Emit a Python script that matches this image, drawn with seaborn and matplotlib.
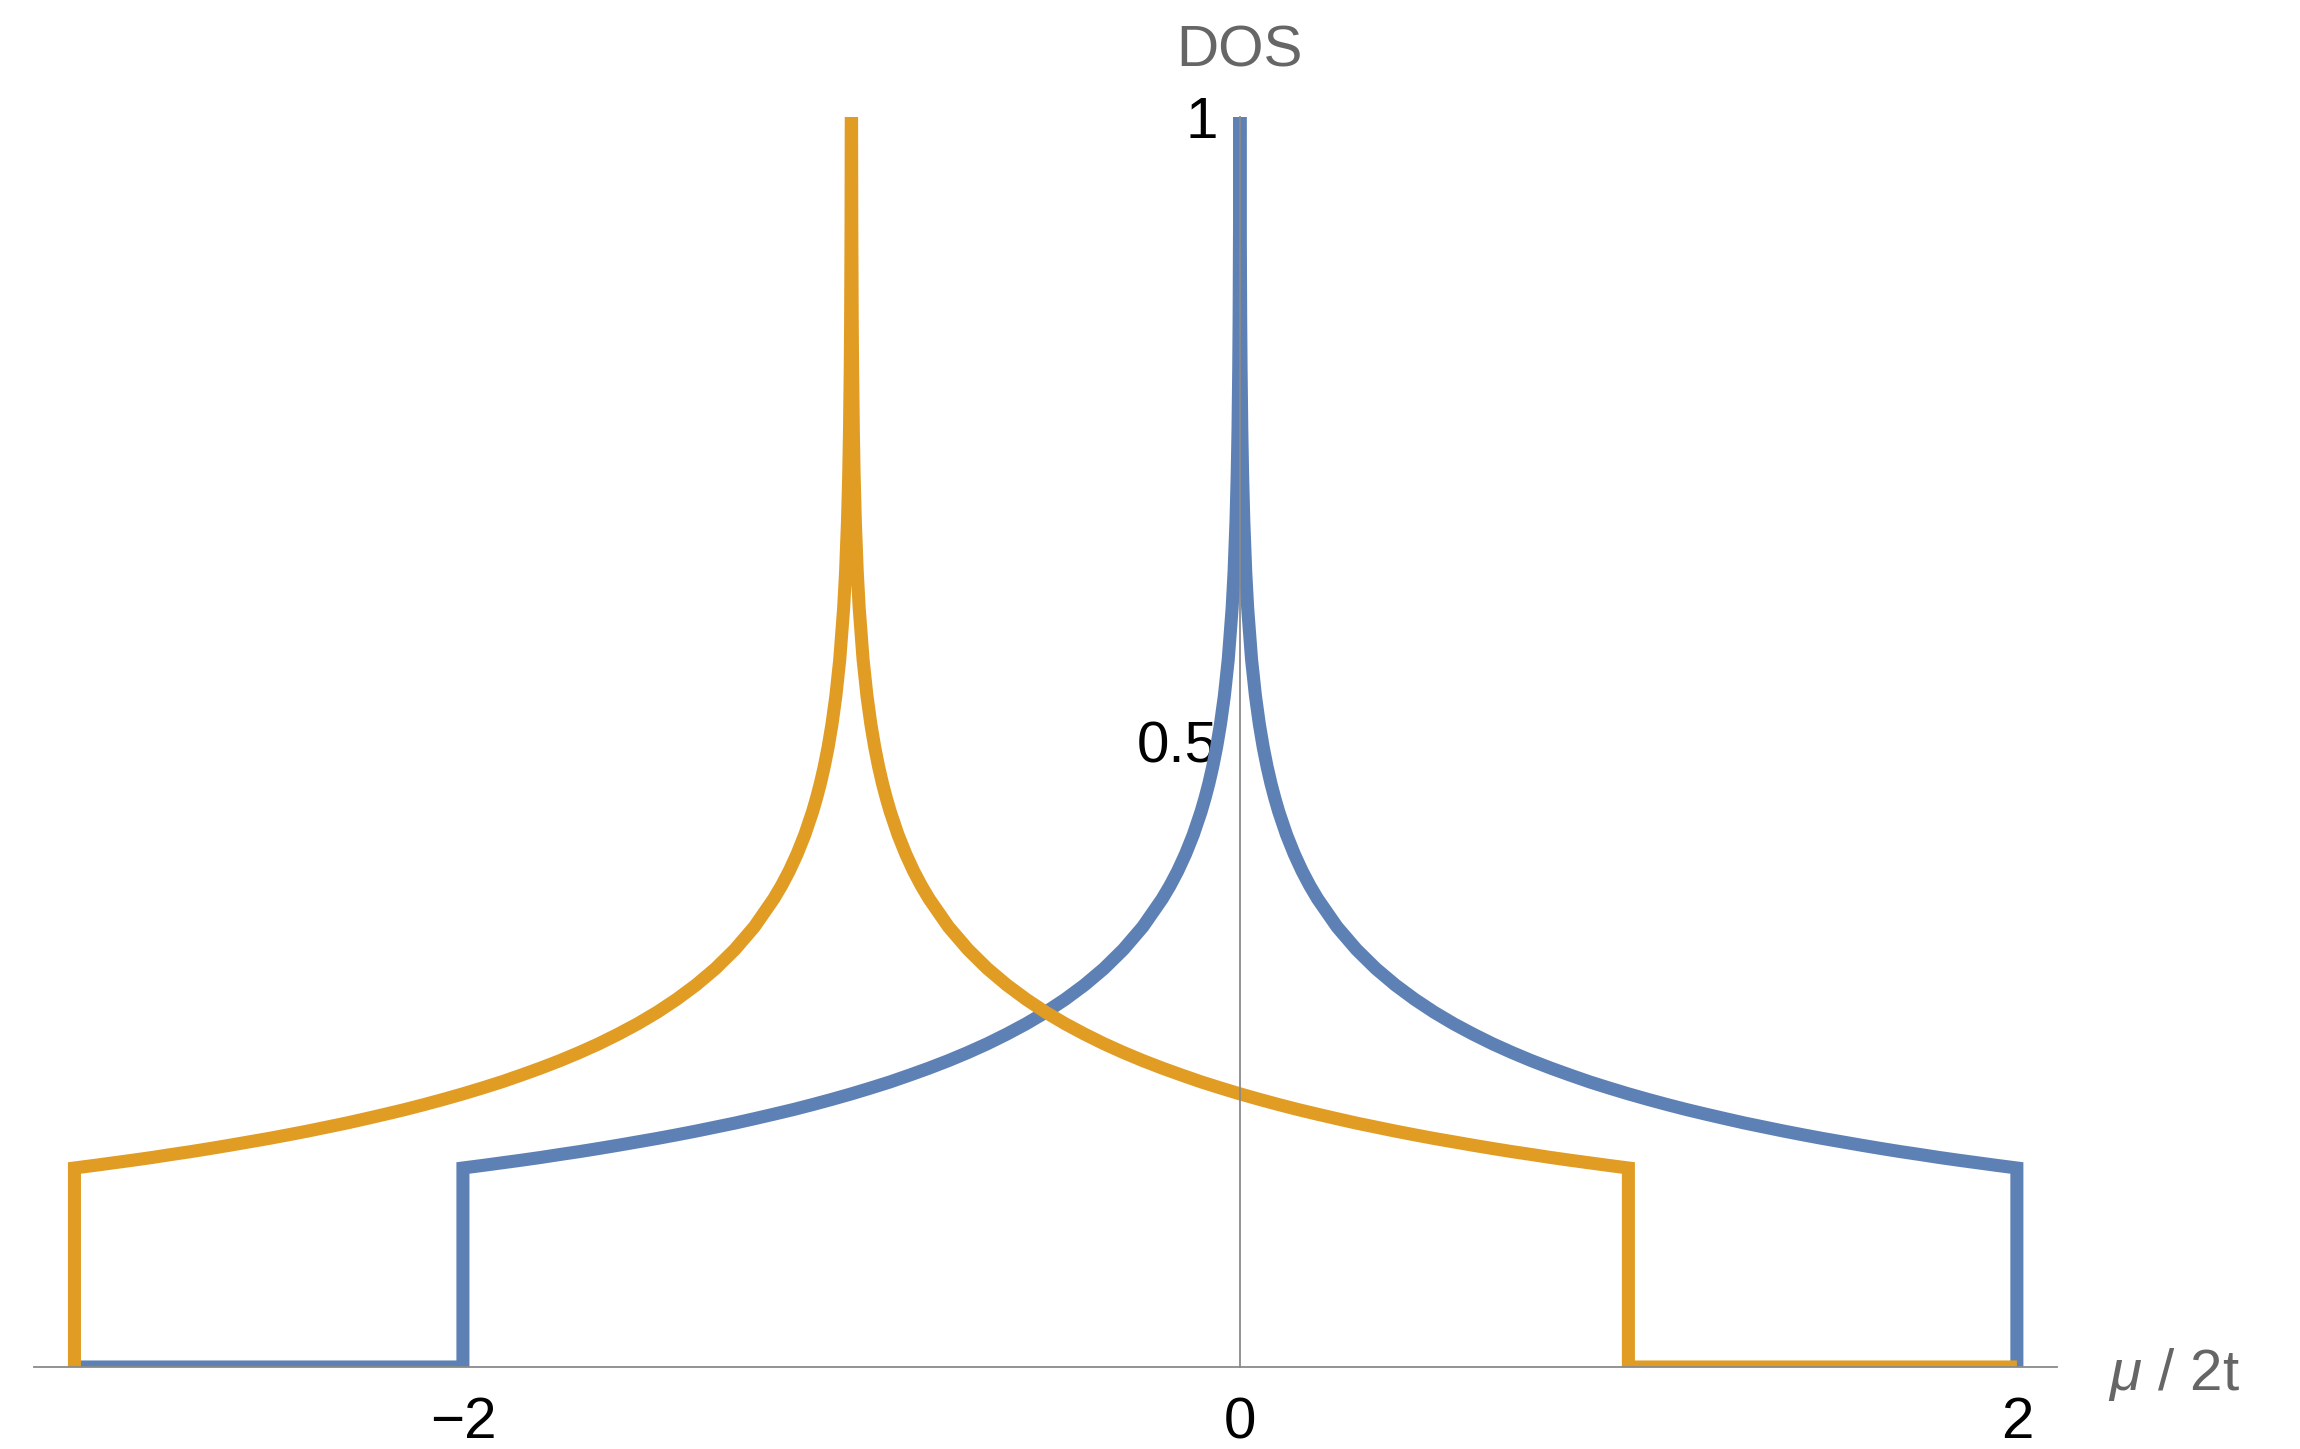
import numpy as np
import pandas as pd
import matplotlib
matplotlib.use("Agg")
import matplotlib.pyplot as plt
import seaborn as sns

# ── Data ──────────────────────────────────────────────────────────────────────
# DOS profile of one band: distance from the band centre -> DOS value
# (the van Hove peak runs off the top of the plot at 1)
dos_offset = [0.0004, 0.001, 0.002, 0.003, 0.005, 0.007, 0.01, 0.015, 0.02, 0.03,
              0.04, 0.05, 0.06, 0.07, 0.08, 0.09, 0.1, 0.12, 0.14, 0.16, 0.18, 0.2,
              0.25, 0.3, 0.35, 0.4, 0.45, 0.5, 0.55, 0.6, 0.65, 0.7, 0.75, 0.8,
              0.85, 0.9, 0.95, 1.0, 1.05, 1.1, 1.15, 1.2, 1.25, 1.3, 1.35, 1.4,
              1.45, 1.5, 1.55, 1.6, 1.65, 1.7, 1.75, 1.8, 1.85, 1.9, 1.95, 2.0]
dos_value = [1.0, 0.9106, 0.8404, 0.7993, 0.7475, 0.7134, 0.6773, 0.6362, 0.6071, 0.5660,
             0.5369, 0.5143, 0.4958, 0.4802, 0.4667, 0.4549, 0.4442, 0.4258, 0.4103, 0.3968, 0.3850, 0.3745,
             0.3521, 0.3340, 0.3187, 0.3056, 0.2941, 0.2838, 0.2746, 0.2663, 0.2586, 0.2516, 0.2451, 0.2391,
             0.2335, 0.2281, 0.2232, 0.2185, 0.2141, 0.2099, 0.2059, 0.2022, 0.1986, 0.1951, 0.1919, 0.1887,
             0.1857, 0.1828, 0.1801, 0.1774, 0.1748, 0.1723, 0.1700, 0.1676, 0.1654, 0.1633, 0.1612, 0.1592]

band_centres = [0.0, -1.0]          # blue, orange
plot_range = [-3.0, 2.0]             # x range the curves are drawn over

x_ticks = [-2, 0, 2]
x_ticklabels = ["\u22122", "0", "2"]
y_ticks = [0.5, 1]
y_ticklabels = ["0.5", "1"]

BLUE = "#5e81b5"
ORANGE = "#e19c24"
AXIS = "#8a8a8a"


def band_curve(centre):
    """Mirror the profile around the band centre and close it with the
    zero-DOS parts outside the band."""
    off = np.array(dos_offset)
    val = np.array(dos_value)
    half = off[-1]
    xs = [centre - half] + list(centre - off[::-1]) + list(centre + off) + [centre + half]
    ys = [0.0] + list(val[::-1]) + list(val) + [0.0]
    if centre - half > plot_range[0]:
        xs = [plot_range[0]] + xs
        ys = [0.0] + ys
    if centre + half < plot_range[1]:
        xs = xs + [plot_range[1]]
        ys = ys + [0.0]
    return pd.DataFrame({"x": xs, "y": ys})


sns.set_theme(style="white")
plt.rcParams["font.family"] = ["Liberation Sans", "DejaVu Sans"]
plt.rcParams["mathtext.fontset"] = "custom"
plt.rcParams["mathtext.rm"] = "Liberation Sans"
plt.rcParams["mathtext.it"] = "Liberation Sans:italic"

fig = plt.figure(figsize=(23, 14.49), dpi=100)
ax = fig.add_axes([0.0148, 0.0566, 0.8795, 0.8627])

line_kw = dict(sort=False, estimator=None, linewidth=9.4,
               solid_joinstyle="miter", solid_capstyle="butt", ax=ax)
for centre, color, z in zip(band_centres, [BLUE, ORANGE], [2, 2.1]):
    df = band_curve(centre)
    sns.lineplot(data=df, x="x", y="y", color=color, zorder=z, **line_kw)

ax.set_xlim(-3.104, 2.103)
ax.set_ylim(0, 1)
ax.set_xlabel("")
ax.set_ylabel("")

# Mathematica-like axes crossing at the origin
for side in ("top", "right"):
    ax.spines[side].set_visible(False)
ax.spines["left"].set_position(("data", 0))
for side in ("left", "bottom"):
    ax.spines[side].set_color(AXIS)
    ax.spines[side].set_linewidth(1.3)
    ax.spines[side].set_zorder(3)

ax.set_xticks(x_ticks)
ax.set_xticklabels(x_ticklabels)
ax.set_yticks(y_ticks)
ax.set_yticklabels(y_ticklabels)
ax.tick_params(axis="both", direction="in", length=8.5, width=1.3, color=AXIS,
               labelsize=42, labelcolor="black")
ax.tick_params(axis="x", pad=21)
ax.tick_params(axis="y", pad=16)
ax.grid(False)

ax.annotate("DOS", xy=(0, 1), xycoords=("data", "axes fraction"),
            xytext=(0, 36), textcoords="offset points",
            ha="center", va="baseline", fontsize=42, color="#666666")
ax.annotate(r"$\mu$ / 2t", xy=(1, 0), xycoords="axes fraction",
            xytext=(36.5, -16.5), textcoords="offset points",
            ha="left", va="baseline", fontsize=42, color="#666666")

fig.savefig("out.png", dpi=100)
plt.close(fig)
